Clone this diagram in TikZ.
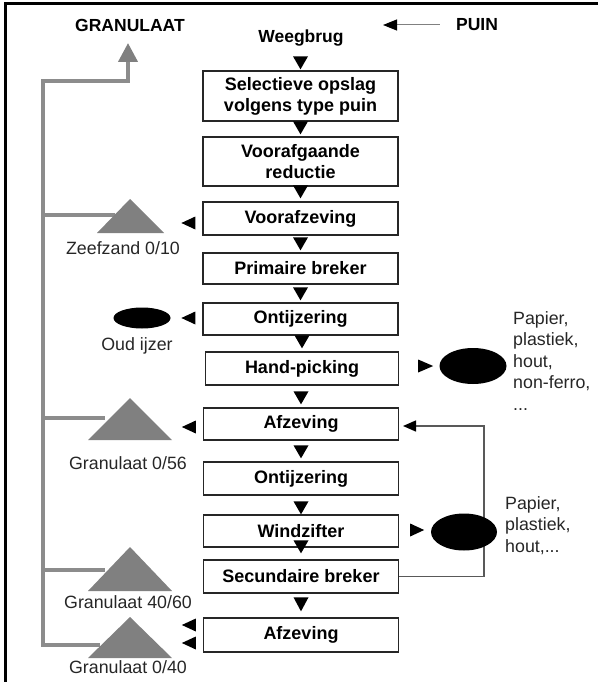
\documentclass[tikz,border=0pt]{standalone}
\usepackage{fontspec}
\setmainfont{Liberation Sans}
\usetikzlibrary{calc,shapes.geometric,arrows.meta}
\begin{document}
\begin{tikzpicture}[x=1pt,y=-1pt,
  box/.style={draw=black!85, line width=1.3pt, fill=white, font=\bfseries\fontsize{18}{21}\selectfont, align=center, inner sep=0pt, minimum width=195pt},
  lbl/.style={font=\fontsize{17.8}{21.5}\selectfont, text=black!85, inner sep=0pt, align=left},
  blbl/.style={font=\bfseries\fontsize{17.5}{20}\selectfont, inner sep=0pt},
  gline/.style={draw=black!45, line width=4pt},
  heap/.style={fill=black!50},
  fb/.style={draw=black!65, line width=1.4pt},
  blob/.style={ellipse, fill=black, inner sep=0pt}]
\useasboundingbox (0,0) rectangle (598,682);
% frame
\draw[line width=3pt] (598,3.5) -- (5.5,3.5) -- (5.5,682);

% top labels
\node[blbl] (gran) at (130,25) {GRANULAAT};
\node[blbl] (puin) at (477,25) {PUIN};
\node[blbl] (weeg) at (301,38) {Weegbrug};
\coordinate (pa) at (383,25);
\draw[draw=black!50, line width=1pt, -{Triangle[length=14pt,width=11pt,color=black]}] ($(puin.west)+(-16,0)$) -- (pa);

% boxes
\node[box, minimum height=50pt] (b1) at (300.5,96) {Selectieve opslag\\volgens type puin};
\node[box, minimum height=49pt] (b2) at (300.5,161.5) {Voorafgaande\\reductie};
\node[box, minimum height=33pt] (b3) at (300.5,218.5) {Voorafzeving};
\node[box, minimum height=31pt] (b4) at (300.5,268.5) {Primaire breker};
\node[box, minimum height=32pt] (b5) at (300.5,319) {Ontijzering};
\node[box, minimum height=33pt, minimum width=193pt] (b6) at (302,368.5) {Hand-picking};
\node[box, minimum height=32pt] (b7) at (301,424) {Afzeving};
\node[box, minimum height=33pt] (b8) at (301,478.5) {Ontijzering};
\node[box, minimum height=32pt] (b9) at (301,531) {Windzifter};
\node[box, minimum height=33pt] (b10) at (301,576.5) {Secundaire breker};
\node[box, minimum height=34pt] (b11) at (301,635) {Afzeving};

% down triangles
\foreach \b/\o in {b1/1,b2/2,b3/3,b4/2,b5/2,b6/3,b7/3,b8/3,b9/0,b10/6} {
  \fill ($(\b.north)+(-7.5,-13-\o)$) -- ($(\b.north)+(7.5,-13-\o)$) -- ($(\b.north)+(0,-\o)$) -- cycle;
}
\fill ($(b11.north)+(-7.5,-20)$) -- ($(b11.north)+(7.5,-20)$) -- ($(b11.north)+(0,-6)$) -- cycle;

% left triangles
\foreach \b/\dy in {b3/4.5,b5/-1,b7/3,b11/-10,b11/8} {
  \fill ($(\b.west)+(-21,\dy)$) -- ($(\b.west)+(-7,\dy-6.5)$) -- ($(\b.west)+(-7,\dy+6.5)$) -- cycle;
}
% right triangles
\fill ($(b6.east)+(34,-2.5)$) -- ($(b6.east)+(19,-9)$) -- ($(b6.east)+(19,4)$) -- cycle;
\fill ($(b9.east)+(25,-1)$) -- ($(b9.east)+(11,-7.5)$) -- ($(b9.east)+(11,5.5)$) -- cycle;

% gray collector
\draw[gline, -{Triangle[length=19pt,width=19pt,color=black!50]}] (100,645) -- (43,645) -- (43,81) -- (128,81) -- (128,43);
\draw[gline] (43,215) -- (115,215);
\draw[gline] (43,418) -- (105,418);
\draw[gline] (43,570) -- (105,570);

% heaps
\fill[heap] (130,199) -- (164,233) -- (97,233) -- cycle;
\fill[heap] (130,398) -- (172,440) -- (88,440) -- cycle;
\fill[heap] (130,547) -- (172,591) -- (88,591) -- cycle;
\fill[heap] (130,617) -- (172,658) -- (88,658) -- cycle;
\node[lbl] (l1) at (123,248) {Zeefzand 0/10};
\node[lbl] (l2) at (128,463) {Granulaat 0/56};
\node[lbl] (l3) at (128,602) {Granulaat 40/60};
\node[lbl] (l4) at (128,667) {Granulaat 0/40};

% oud ijzer
\node[blob, minimum width=57pt, minimum height=21pt] (e1) at (142,318) {};
\node[lbl] (l5) at (137,346) {Oud ijzer};

% feedback
\coordinate (fb1) at (484,576.5);
\coordinate (fb2) at (484,426);
\coordinate (fb3) at (403,426);
\draw[fb, -{Triangle[length=13pt,width=11pt,color=black]}] (b10.east) -- (fb1) -- (fb2) -- (fb3);

% right blobs
\node[blob, minimum width=67pt, minimum height=36pt] (e2) at (473,366) {};
\node[lbl, anchor=north west] (t2) at (513,311) {Papier,\\plastiek,\\hout,\\non-ferro,\\...};
\node[blob, minimum width=66pt, minimum height=37pt] (e3) at (464,532) {};
\node[lbl, anchor=north west] (t3) at (505,496) {Papier,\\plastiek,\\hout,...};
\end{tikzpicture}
\end{document}
